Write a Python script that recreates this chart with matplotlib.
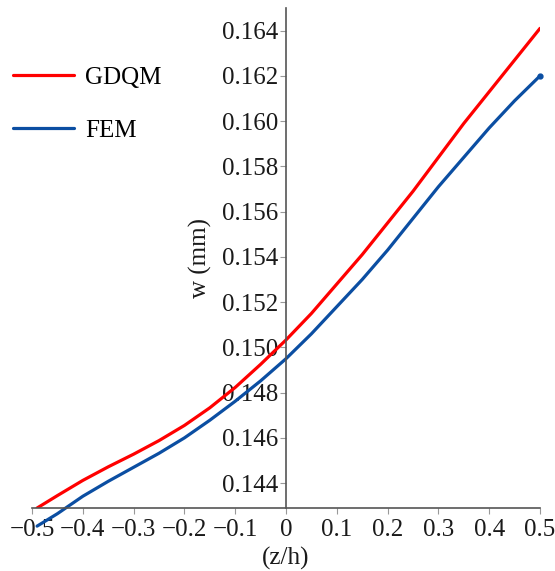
import matplotlib
matplotlib.use('Agg')
import matplotlib.pyplot as plt

plt.rcParams['font.family'] = ['Liberation Serif', 'DejaVu Serif']
plt.rcParams['axes.unicode_minus'] = True

# thickness coordinate (z/h)
z = [-0.49, -0.45, -0.4, -0.35, -0.3, -0.25, -0.2, -0.15, -0.1, -0.05, 0.0,
     0.05, 0.1, 0.15, 0.2, 0.25, 0.3, 0.35, 0.4, 0.45, 0.5]
# deflection w (mm)
w_gdqm = [0.1429, 0.14345, 0.14412, 0.14472, 0.14528, 0.14588, 0.14655, 0.14733, 0.14823,
          0.14925, 0.15033, 0.1515, 0.1528, 0.1541, 0.1555, 0.1569, 0.1584, 0.1599,
          0.1613, 0.1627, 0.1641]
w_fem = [0.1421, 0.14265, 0.14342, 0.14408, 0.1447, 0.14532, 0.14600, 0.14678, 0.14762,
         0.14852, 0.1495, 0.1506, 0.1518, 0.1530, 0.1543, 0.1557, 0.1571, 0.1584,
         0.1597, 0.1609, 0.1620]

fig = plt.figure(figsize=(5.55, 5.71), dpi=100)
ax = fig.add_axes([0.0577, 0.1103, 0.9153, 0.8757])

l1, = ax.plot(z, w_gdqm, color='#ff0000', lw=2.3, label='GDQM',
              solid_joinstyle='round', solid_capstyle='round')
l2, = ax.plot(z, w_fem, color='#0b4ea2', lw=2.3, label='FEM', clip_on=False,
              solid_joinstyle='round', solid_capstyle='round')
ax.plot(z[-1], w_fem[-1], 'o', color='#0b4ea2', ms=3.5, clip_on=False)

ax.set_xlim(-0.5, 0.5)
ax.set_ylim(0.1429, 0.165)
ax.set_xticks([-0.5, -0.4, -0.3, -0.2, -0.1, 0, 0.1, 0.2, 0.3, 0.4, 0.5])
ax.set_xticklabels(['\u22120.5', '\u22120.4', '\u22120.3', '\u22120.2', '\u22120.1', '0',
                    '0.1', '0.2', '0.3', '0.4', '0.5'])
ax.set_yticks([0.144, 0.146, 0.148, 0.150, 0.152, 0.154, 0.156, 0.158, 0.160, 0.162, 0.164])
ax.set_yticklabels(['%.3f' % v for v in ax.get_yticks()])

ax.spines['top'].set_visible(False)
ax.spines['right'].set_visible(False)
ax.spines['left'].set_position(('data', 0))
for s in ['left', 'bottom']:
    ax.spines[s].set_color('#555555')
    ax.spines[s].set_linewidth(1.2)
ax.tick_params(axis='both', direction='out', length=4, width=0.8, color='#999999',
               labelsize=18, labelcolor='#1a1a1a')
ax.tick_params(axis='y', pad=1.5)
ax.tick_params(axis='x', pad=4)

ax.set_xlabel('(z/h)', fontsize=18, color='#1a1a1a', labelpad=4)
ax.set_ylabel('w (mm)', fontsize=18, color='#1a1a1a')
ax.yaxis.set_label_coords(0.355, 0.5)

fig.legend(handles=[l1, l2], loc='upper left', bbox_to_anchor=(0.0, 0.905),
           frameon=False, fontsize=18, handlelength=2.45, handletextpad=0.45,
           labelspacing=1.2, borderaxespad=0.0, borderpad=0.5)

fig.savefig('out.png', dpi=100)
